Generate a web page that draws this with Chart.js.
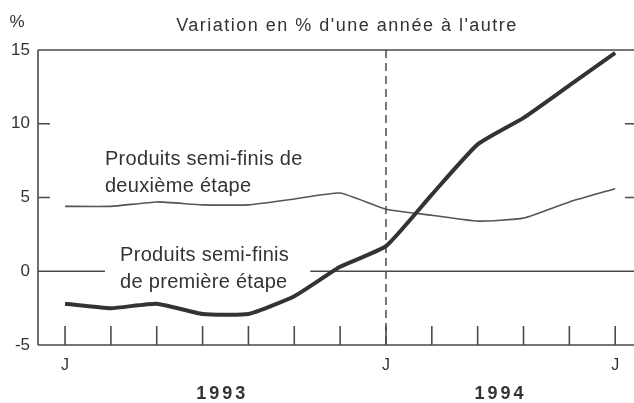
<!DOCTYPE html>
<html lang="fr">
<head>
<meta charset="utf-8">
<script src="https://cdn.jsdelivr.net/npm/chart.js@4"></script>
<style>
  html, body { margin: 0; padding: 0; background: #fff; }
  #wrap { width: 634px; height: 403px; }
</style>
</head>
<body>
<div id="wrap"><canvas id="chart"></canvas></div>
<script>
// Variation en % d'une année à l'autre, produits semi-finis
const months = ['J', '', '', '', '', '', '', 'J', '', '', '', '', 'J']
const firstStage = [-2.2, -2.5, -2.2, -2.9, -2.9, -1.7, 0.3, 1.7, 5.2, 8.6, 10.4, 12.6, 14.8]
const secondStage = [4.4, 4.4, 4.7, 4.5, 4.5, 4.9, 5.3, 4.2, 3.8, 3.4, 3.6, 4.7, 5.6]
const yTicks = [-5, 0, 5, 10, 15]
const years = ['1993', '1994']
const title = "Variation en % d'une année à l'autre"
const secondLabel = ['Produits semi-finis de', 'deuxième étape']
const firstLabel = ['Produits semi-finis', 'de première étape']

const FONT = '"Liberation Sans", Arial, sans-serif'
const INK = '#333'
const AXIS = '#4a4a4a'

const toPoints = arr => arr.map((v, i) => ({ x: i, y: v }))

// frame, inner ticks, zero line, dashed year separator and the text
const decor = {
  id: 'decor',
  beforeDatasetsDraw(chart) {
    const { ctx, chartArea: { left, right, top, bottom }, scales: { x, y } } = chart
    ctx.save()
    ctx.strokeStyle = AXIS
    ctx.lineWidth = 1.6

    ctx.beginPath()
    ctx.moveTo(left, top); ctx.lineTo(right, top)
    ctx.moveTo(left, top); ctx.lineTo(left, bottom)
    ctx.moveTo(left, bottom); ctx.lineTo(right, bottom)
    ctx.stroke()

    // zero line, interrupted by the first-stage label
    const y0 = y.getPixelForValue(0)
    ctx.beginPath()
    ctx.moveTo(left, y0); ctx.lineTo(x.getPixelForValue(0.87), y0)
    ctx.moveTo(x.getPixelForValue(5.35), y0); ctx.lineTo(right, y0)
    ctx.stroke()

    // short ticks on both sides for 5 and 10
    ;[5, 10].forEach(v => {
      const py = y.getPixelForValue(v)
      ctx.beginPath()
      ctx.moveTo(left, py); ctx.lineTo(left + 12, py)
      ctx.moveTo(right - 9, py); ctx.lineTo(right, py)
      ctx.stroke()
    })

    // month ticks rising from the bottom axis
    months.forEach((m, i) => {
      const px = x.getPixelForValue(i)
      ctx.beginPath()
      ctx.moveTo(px, bottom); ctx.lineTo(px, bottom - 19)
      ctx.stroke()
    })

    // dashed separator at the start of 1994
    const xs = x.getPixelForValue(7)
    ctx.setLineDash([8, 5])
    ctx.lineWidth = 1.5
    ctx.beginPath()
    ctx.moveTo(xs, top); ctx.lineTo(xs, bottom)
    ctx.stroke()
    ctx.setLineDash([])

    ctx.fillStyle = INK
    ctx.textBaseline = 'alphabetic'
    ctx.font = '18px ' + FONT
    ctx.letterSpacing = '1.5px'
    ctx.textAlign = 'center'
    ctx.fillText(title, 347, 31)
    ctx.letterSpacing = '0px'
    ctx.font = '17px ' + FONT
    ctx.fillText('%', 17, 27)

    ctx.font = '20px ' + FONT
    ctx.letterSpacing = '0.3px'
    ctx.textAlign = 'left'
    ctx.fillText(secondLabel[0], x.getPixelForValue(0.87), y.getPixelForValue(7.2))
    ctx.fillText(secondLabel[1], x.getPixelForValue(0.87), y.getPixelForValue(5.35))
    ctx.fillText(firstLabel[0], x.getPixelForValue(1.2), y.getPixelForValue(0.68))
    ctx.fillText(firstLabel[1], x.getPixelForValue(1.2), y.getPixelForValue(-1.15))

    ctx.font = 'bold 18px ' + FONT
    ctx.letterSpacing = '3px'
    ctx.textAlign = 'center'
    ctx.fillText(years[0], x.getPixelForValue(3.43), 399)
    ctx.fillText(years[1], x.getPixelForValue(9.5), 399)
    ctx.letterSpacing = '0px'
    ctx.restore()
  }
}

new Chart(document.getElementById('chart'), {
  type: 'line',
  data: {
    datasets: [
      {
        label: 'Produits semi-finis de première étape',
        data: toPoints(firstStage),
        borderColor: '#333',
        borderWidth: 4,
        pointRadius: 0,
        tension: 0.15
      },
      {
        label: 'Produits semi-finis de deuxième étape',
        data: toPoints(secondStage),
        borderColor: '#555',
        borderWidth: 1.6,
        pointRadius: 0,
        tension: 0.15
      }
    ]
  },
  options: {
    responsive: true,
    maintainAspectRatio: false,
    animation: false,
    layout: { padding: { top: 50, right: 0, left: 0, bottom: 0 } },
    plugins: { legend: { display: false }, tooltip: { enabled: false } },
    scales: {
      x: {
        type: 'linear',
        min: -0.59,
        max: 12.41,
        afterBuildTicks: s => { s.ticks = months.map((m, i) => ({ value: i })) },
        afterFit: s => { s.height = 58 },
        grid: { display: false, drawTicks: false },
        border: { display: false },
        ticks: {
          autoSkip: false,
          maxRotation: 0,
          padding: 11,
          color: INK,
          font: { family: FONT, size: 16 },
          callback: v => months[v] ?? ''
        }
      },
      y: {
        min: -5,
        max: 15,
        afterBuildTicks: s => { s.ticks = yTicks.map(v => ({ value: v })) },
        afterFit: s => { s.width = 38 },
        grid: { display: false, drawTicks: false },
        border: { display: false },
        ticks: {
          padding: 8,
          color: INK,
          font: { family: FONT, size: 17 }
        }
      }
    }
  },
  plugins: [decor]
})
</script>
</body>
</html>
